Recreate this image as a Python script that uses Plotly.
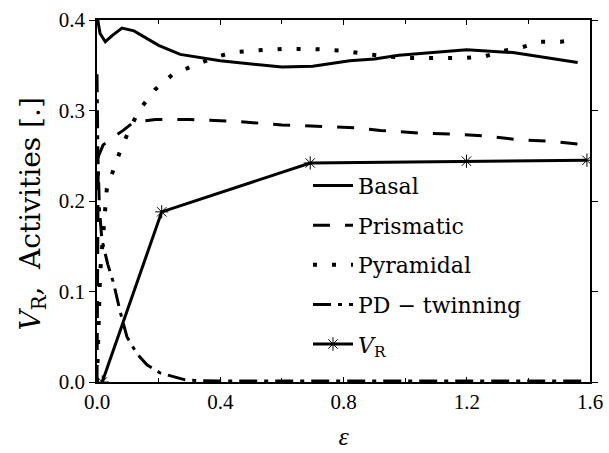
import plotly.graph_objects as go

# Strain values and slip/twin activities per deformation mode
eps_basal = [0, 0.01, 0.027, 0.05, 0.081, 0.12, 0.2, 0.27, 0.4, 0.6, 0.7, 0.82, 0.9, 0.98, 1.05, 1.2, 1.35, 1.56]
act_basal = [0.405, 0.385, 0.376, 0.383, 0.391, 0.388, 0.372, 0.362, 0.355, 0.348, 0.349, 0.355, 0.357, 0.361, 0.363, 0.367, 0.364, 0.353]

eps_prism = [0, 0.002, 0.004, 0.02, 0.05, 0.085, 0.118, 0.19, 0.3, 0.45, 0.6, 0.84, 0.92, 1.05, 1.15, 1.26, 1.36, 1.47, 1.56]
act_prism = [0, 0.15, 0.249, 0.262, 0.27, 0.278, 0.287, 0.29, 0.29, 0.288, 0.284, 0.281, 0.278, 0.275, 0.274, 0.272, 0.268, 0.266, 0.263]

eps_pyr = [0, 0.01, 0.032, 0.053, 0.076, 0.1, 0.136, 0.188, 0.246, 0.31, 0.375, 0.437, 0.5, 0.6, 0.7, 0.8, 0.88, 1.0, 1.1, 1.19, 1.26, 1.32, 1.38, 1.44, 1.506, 1.56]
act_pyr = [0.0, 0.12, 0.214, 0.234, 0.256, 0.275, 0.3, 0.323, 0.34, 0.349, 0.358, 0.364, 0.366, 0.368, 0.368, 0.366, 0.362, 0.358, 0.358, 0.358, 0.36, 0.366, 0.37, 0.376, 0.376, 0.379]

eps_twin = [0, 0.003, 0.008, 0.016, 0.035, 0.054, 0.075, 0.097, 0.13, 0.162, 0.205, 0.29, 0.4, 0.6, 1.0, 1.58]
act_twin = [0.34, 0.25, 0.19, 0.157, 0.13, 0.109, 0.078, 0.05, 0.031, 0.019, 0.01, 0.002, 0.001, 0.001, 0.001, 0.001]

eps_vr = [0.017, 0.21, 0.692, 1.199, 1.59]
vr = [0, 0.188, 0.242, 0.244, 0.245]

serif = "Liberation Serif, DejaVu Serif, serif"
wide_serif = "DejaVu Serif, serif"
lw = 3

fig = go.Figure()
fig.add_trace(go.Scatter(x=eps_basal, y=act_basal, mode="lines", name="Basal",
                         legendgroup="a", line=dict(color="black", width=lw)))
fig.add_trace(go.Scatter(x=eps_prism, y=act_prism, mode="lines", name="Prismatic",
                         legendgroup="b", line=dict(color="black", width=lw, dash="17px,15px")))
fig.add_trace(go.Scatter(x=eps_pyr, y=act_pyr, mode="lines", name="Pyramidal",
                         legendgroup="c", line=dict(color="black", width=lw + 1, dash="4px,15px")))
fig.add_trace(go.Scatter(x=eps_twin, y=act_twin, mode="lines", name="PD − twinning",
                         legendgroup="d", line=dict(color="black", width=lw, dash="18px,7px,4px,7px")))
fig.add_trace(go.Scatter(x=eps_vr, y=vr, mode="lines+markers", name="<i>V</i><sub>R</sub>",
                         legendgroup="e", line=dict(color="black", width=lw),
                         marker=dict(symbol="asterisk-open", size=11, color="black",
                                     line=dict(color="black", width=1))))

fig.update_layout(
    width=609, height=453,
    margin=dict(l=97, r=19, t=20, b=71),
    plot_bgcolor="white", paper_bgcolor="white",
    font=dict(family=serif, color="black", size=21),
    showlegend=True,
    legend=dict(x=0.428, y=0.6, xanchor="left", yanchor="top",
                bgcolor="rgba(0,0,0,0)", borderwidth=0,
                font=dict(family=wide_serif, size=22),
                traceorder="grouped", tracegroupgap=8, itemwidth=40),
)
fig.update_xaxes(range=[0, 1.6], tickvals=[0, 0.4, 0.8, 1.2, 1.6],
                 ticktext=["0.0", "0.4", "0.8", "1.2", "1.6"],
                 ticks="inside", ticklen=5, tickwidth=1, tickcolor="black",
                 minor=dict(dtick=0.2, ticks="inside", ticklen=4, tickcolor="black"),
                 showline=True, linecolor="black", linewidth=1.5, mirror="ticks",
                 showgrid=False, zeroline=False, automargin=False,
                 title=dict(text="<i>ε</i>", font=dict(size=26, family=serif), standoff=14))
fig.update_yaxes(range=[0, 0.4], tickvals=[0, 0.1, 0.2, 0.3, 0.4],
                 ticktext=["0.0", "0.1", "0.2", "0.3", "0.4"],
                 ticks="outside", ticklen=6, tickwidth=1, tickcolor="black",
                 showline=True, linecolor="black", linewidth=1.5, mirror="ticks",
                 showgrid=False, zeroline=False, automargin=False)

fig.add_annotation(text="<i>V</i><sub>R</sub>,  Activities [.]", textangle=-90,
                   xref="paper", yref="paper", x=-0.13, y=0.465,
                   xanchor="center", yanchor="middle", showarrow=False,
                   font=dict(family=wide_serif, size=28))

fig.write_html("out.html")
